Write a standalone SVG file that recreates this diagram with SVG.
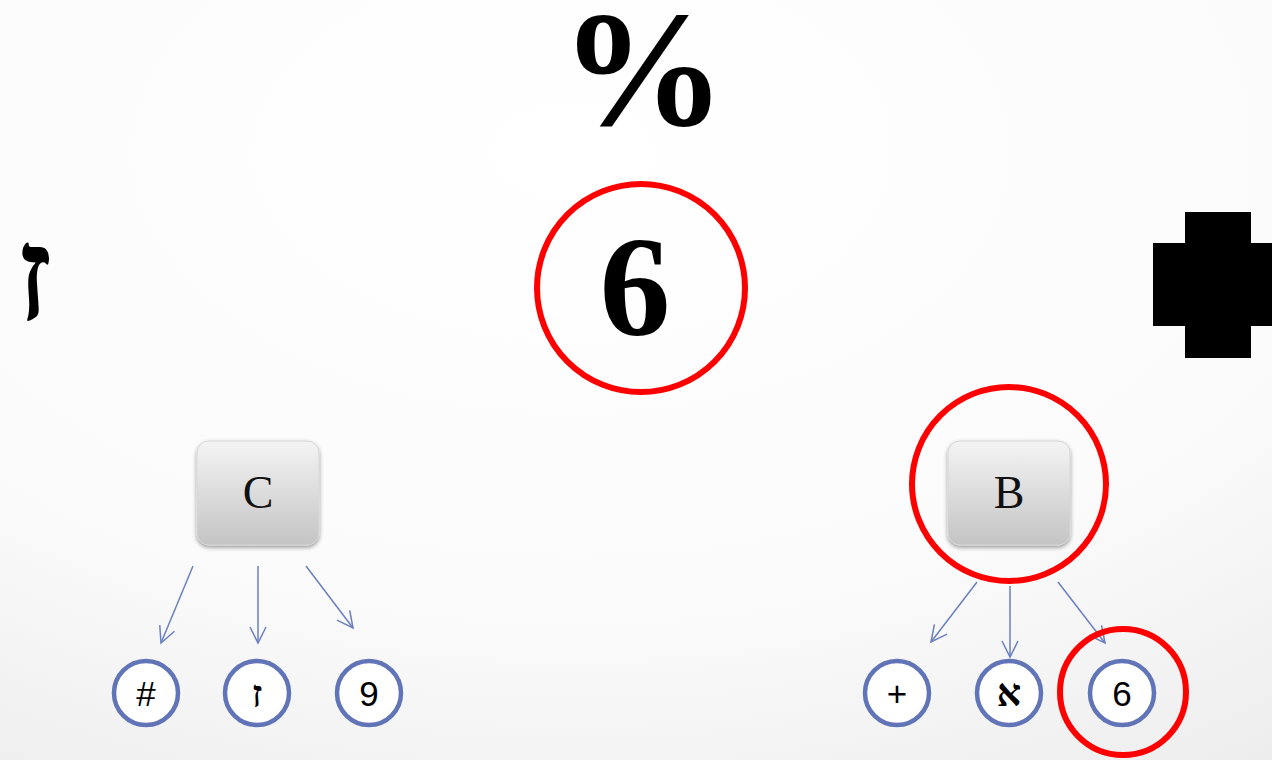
<svg xmlns="http://www.w3.org/2000/svg" width="1272" height="760" viewBox="0 0 1272 760">
<defs>
<radialGradient id="bg" cx="0.45" cy="0.2" r="1">
<stop offset="0" stop-color="#ffffff"/>
<stop offset="0.6" stop-color="#fbfbfb"/>
<stop offset="1" stop-color="#ececec"/>
</radialGradient>
<linearGradient id="key" x1="0" y1="0" x2="0" y2="1">
<stop offset="0" stop-color="#f4f4f4"/>
<stop offset="0.5" stop-color="#dcdcdc"/>
<stop offset="1" stop-color="#c4c4c4"/>
</linearGradient>
<filter id="sh" x="-20%" y="-20%" width="140%" height="140%">
<feGaussianBlur in="SourceAlpha" stdDeviation="2"/>
<feOffset dy="2"/>
<feComponentTransfer><feFuncA type="linear" slope="0.4"/></feComponentTransfer>
<feMerge><feMergeNode/><feMergeNode in="SourceGraphic"/></feMerge>
</filter>
<marker id="ah" viewBox="0 0 20 20" refX="18" refY="10" markerWidth="20" markerHeight="20" markerUnits="userSpaceOnUse" orient="auto">
<path d="M2,2 L18,10 L2,18" fill="none" stroke="#6a80c0" stroke-width="1.5"/>
</marker>
</defs>
<style>
.big{font-family:"Liberation Serif",serif;font-weight:bold;fill:#000;text-anchor:middle}
.key{fill:url(#key);stroke:#d6d6d6;stroke-width:1}
.keyt{font-family:"Liberation Serif",serif;font-size:46px;fill:#111;text-anchor:middle}
.leaf{fill:#fff;stroke:#6274b8;stroke-width:4.5}
.leaft{font-family:"Liberation Sans",sans-serif;font-size:35px;fill:#000;text-anchor:middle}
.heb{font-family:"Liberation Serif",serif;font-size:38px;font-weight:bold}
.red{fill:none;stroke:#ff0000;stroke-width:6}
.conn line{stroke:#6a80c0;stroke-width:1.5;marker-end:url(#ah)}
</style>
<rect width="1272" height="760" fill="url(#bg)"/>

<g id="percent"><text class="big" x="643" y="125" font-size="166">%</text></g>
<g id="zayin-big"><text class="big" x="34" y="320" font-size="132">ז</text></g>
<g id="cross-shape"><path d="M1185,212 H1251 V243 H1272 V326 H1251 V358 H1185 V326 H1153 V243 H1185 Z" fill="#000"/></g>

<g id="center-six">
<circle class="red" cx="641" cy="288" r="104"/>
<text class="big" x="635" y="335" font-size="142">6</text>
</g>

<g id="node-C">
<rect class="key" x="197" y="441" width="122" height="104" rx="12" filter="url(#sh)"/>
<text class="keyt" x="258" y="508">C</text>
</g>
<g id="node-B">
<rect class="key" x="948" y="441" width="122" height="104" rx="12" filter="url(#sh)"/>
<text class="keyt" x="1009" y="508">B</text>
<circle class="red" cx="1009" cy="484" r="97"/>
</g>

<g class="conn" id="connectors">
<line x1="193" y1="566" x2="161" y2="643"/>
<line x1="258" y1="566" x2="258" y2="643"/>
<line x1="306" y1="566" x2="353" y2="628"/>
<line x1="977" y1="582" x2="931" y2="642"/>
<line x1="1010" y1="586" x2="1010" y2="657"/>
<line x1="1058" y1="582" x2="1105" y2="643"/>
</g>

<g id="leaf-hash"><circle class="leaf" cx="146" cy="693" r="32"/><text class="leaft" x="146" y="706">#</text></g>
<g id="leaf-zayin"><circle class="leaf" cx="257" cy="693" r="32"/><text class="leaft heb" x="257" y="707">ז</text></g>
<g id="leaf-nine"><circle class="leaf" cx="369" cy="693" r="32"/><text class="leaft" x="369" y="706">9</text></g>
<g id="leaf-plus"><circle class="leaf" cx="897" cy="693" r="32"/><text class="leaft" x="897" y="706">+</text></g>
<g id="leaf-alef"><circle class="leaf" cx="1009" cy="693" r="32"/><text class="leaft heb" x="1009" y="706">א</text></g>
<g id="leaf-six"><circle class="leaf" cx="1122" cy="693" r="32"/><text class="leaft" x="1122" y="706">6</text>
<circle class="red" cx="1123" cy="692" r="63"/></g>
</svg>
